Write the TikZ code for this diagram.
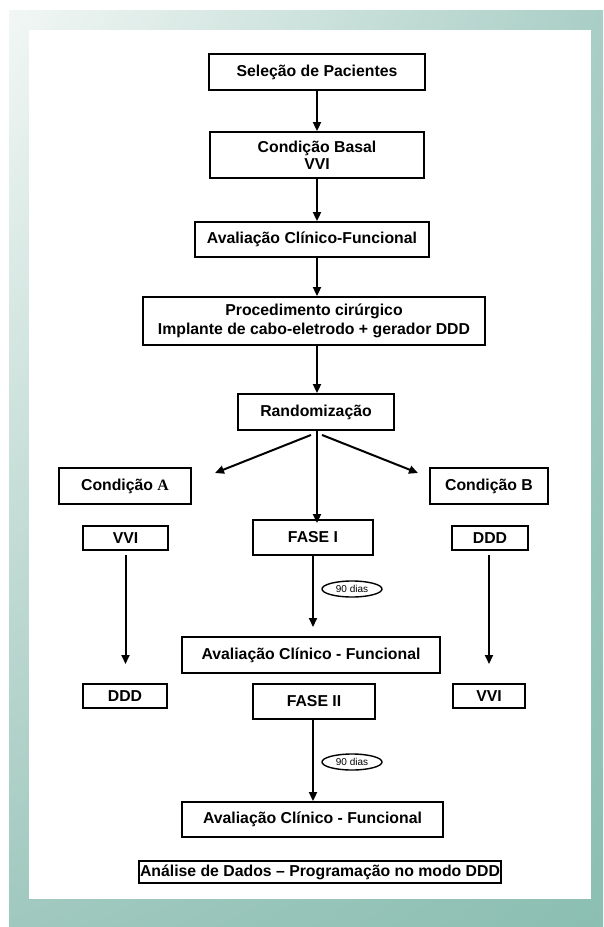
\documentclass[tikz,border=0pt]{standalone}
\usepackage{fontspec}
\setmainfont{Liberation Sans}
\newfontfamily\serifA{Liberation Serif}
\usetikzlibrary{arrows.meta,shapes.geometric,shadings}
\definecolor{fTL}{HTML}{F2F7F5}
\definecolor{fTR}{HTML}{A9CEC5}
\definecolor{fBL}{HTML}{A0C8BE}
\definecolor{fBR}{HTML}{8BBFB1}
\begin{document}
\begin{tikzpicture}[x=1pt,y=-1pt,
  box/.style={draw=black, line width=1.9pt, fill=white, inner sep=0pt,
    font=\fontsize{15.8}{18}\selectfont\bfseries, align=center},
  arr/.style={-{Triangle[length=9pt,width=8pt]}, line width=2pt},
  dias/.style={ellipse, draw=black, line width=1.4pt, fill=white, minimum width=60pt,
    minimum height=16pt, inner sep=0pt, font=\fontsize{10}{12}\selectfont}]
\useasboundingbox (0,0) rectangle (603,927);
\shade[upper left=fTL, upper right=fTR, lower left=fBL, lower right=fBR] (9,10) rectangle (603,927);
\fill[white] (29,30) rectangle (591,899);

\node[box, minimum width=216pt, minimum height=36pt] (sel) at (317,72) {Seleção de Pacientes};
\node[box, minimum width=214pt, minimum height=46pt, font=\fontsize{15.8}{17}\selectfont\bfseries] (basal) at (317,155) {Condição Basal\\VVI};
\node[box, minimum width=234pt, minimum height=35pt] (aval1) at (312,239.5) {Avaliação Clínico-Funcional};
\node[box, minimum width=342pt, minimum height=48pt, font=\fontsize{15.8}{19}\selectfont\bfseries] (proc) at (314,321) {Procedimento cirúrgico\\Implante de cabo-eletrodo + gerador DDD};
\node[box, minimum width=156pt, minimum height=36pt] (rand) at (316,412) {Randomização};

\node[box, minimum width=132pt, minimum height=36pt] (condA) at (125,486) {Condição {\serifA A}};
\node[box, minimum width=118pt, minimum height=36pt] (condB) at (489,486) {Condição B};

\node[box, minimum width=85pt, minimum height=24pt] (vviA) at (125.5,538) {VVI};
\node[box, minimum width=120pt, minimum height=35pt] (fase1) at (313,537.5) {FASE I};
\node[box, minimum width=76pt, minimum height=24pt] (dddB) at (490,538) {DDD};

\node[dias] (d1) at (352,589) {90 dias};

\node[box, minimum width=258pt, minimum height=36pt] (aval2) at (311,655) {Avaliação Clínico - Funcional};

\node[box, minimum width=84pt, minimum height=24pt] (dddA) at (125,696) {DDD};
\node[box, minimum width=122pt, minimum height=35pt] (fase2) at (314,701.5) {FASE II};
\node[box, minimum width=72pt, minimum height=24pt] (vviB) at (489,696) {VVI};

\node[dias] (d2) at (352,762) {90 dias};

\node[box, minimum width=261pt, minimum height=35pt] (aval3) at (312.5,819.5) {Avaliação Clínico - Funcional};
\node[box, minimum width=362pt, minimum height=22pt] (anal) at (320,872) {Análise de Dados – Programação no modo DDD};

\coordinate (cA) at (215,473);
\coordinate (cB) at (418,473);
\coordinate (lS) at (125.5,555);
\coordinate (lE) at (125.5,664);
\coordinate (rS) at (489,555);
\coordinate (rE) at (489,664);
\coordinate (mE) at (313,627);

\draw[arr] (sel.south -| basal.south) -- (basal.north);
\draw[arr] (basal.south) -- (aval1.north -| basal.south);
\draw[arr] (aval1.south -| basal.south) -- (proc.north -| basal.south);
\draw[arr] (proc.south -| basal.south) -- (rand.north -| basal.south);
\draw[arr] ([xshift=-6pt]rand.south -| basal.south) ++(0,4) -- (cA);
\draw[arr] ([xshift=5pt]rand.south -| basal.south) ++(0,4) -- (cB);
\draw[arr] (rand.south -| basal.south) -- ([yshift=-4pt]fase1.north -| basal.south);
\draw[arr] (lS) -- (lE);
\draw[arr] (rS) -- (rE);
\draw[arr] (fase1.south) -- (mE);
\draw[arr] (fase2.south -| fase1.south) -- (aval3.north -| fase1.south);
\end{tikzpicture}
\end{document}
